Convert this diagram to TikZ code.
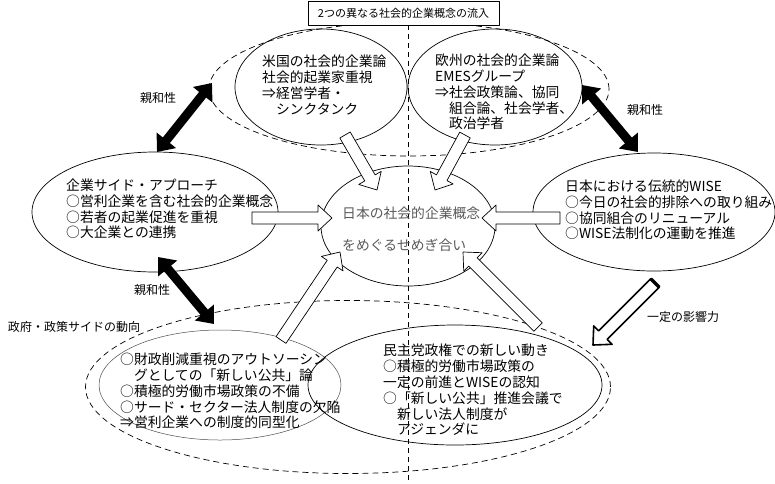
\documentclass[tikz,border=0pt]{standalone}
\usepackage{fontspec}
\setmainfont{Noto Sans CJK JP}
\usetikzlibrary{arrows.meta,calc,shapes.geometric}
\begin{document}
\begin{tikzpicture}[x=1pt,y=-1pt, line join=round,
    ell/.style={draw, ellipse, inner sep=0pt, line width=0.7pt},
    dsh/.style={dash pattern=on 6pt off 4pt, line width=0.7pt},
    txt/.style={align=left, inner sep=0pt, anchor=west, font=\fontsize{13.8}{15.8}\selectfont},
    lbl/.style={inner sep=0pt, font=\fontsize{12}{14}\selectfont},
    kin/.style={line width=9pt, {Triangle[length=15pt,width=24pt]}-{Triangle[length=15pt,width=24pt]}}]
    \def\shw{6pt} \def\hhw{13pt} \def\hlen{14pt} % block arrow sizes
    \def\blockarrow#1#2#3{\coordinate (hb) at ($(#3)!\hlen!(#2)$);
        \draw[fill=white,line width=0.7pt,#1] ($(#2)!\shw!90:(#3)$)--($(hb)!\shw!90:(#3)$)--($(hb)!\hhw!90:(#3)$)--(#3)
        --($(hb)!\hhw!-90:(#3)$)--($(hb)!\shw!-90:(#3)$)--($(#2)!\shw!-90:(#3)$)--cycle;}
    \useasboundingbox (0,0) rectangle (775,483);
    % dashed groups
    \node[ell, dsh, minimum width=400, minimum height=134] (topD) at (409,89) {};
    \node[ell, dsh, minimum width=525, minimum height=173] (botD) at (348,387) {};
    \draw[dash pattern=on 5pt off 4pt, line width=0.7pt] (408,25)--(408,483);
    \node[draw, fill=white, line width=0.7pt, minimum width=191, minimum height=24, inner sep=0pt,
        font=\fontsize{11}{13}\selectfont] (title) at (403.5,13.5) {2つの異なる社会的企業概念の流入};
    % ellipses
    \node[ell, minimum width=172, minimum height=116] (beiE) at (321,87) {};
    \node[ell, minimum width=174, minimum height=116] (oshuE) at (495,87) {};
    \node[ell, minimum width=246, minimum height=120] (kigyoE) at (155,212) {};
    \node[ell, minimum width=242, minimum height=118] (wiseE) at (654,212) {};
    \node[ell, minimum width=174, minimum height=120] (chuE) at (408,226) {};
    \node[ell, draw=black!70, line width=0.5pt, minimum width=242, minimum height=110] (seifuE) at (220,385) {};
    \node[ell, minimum width=294, minimum height=120] (minshuE) at (455,385) {};
    % texts
    \node[txt] (beiT) at (262,85) {米国の社会的企業論\\社会的起業家重視\\⇒経営学者・\\　シンクタンク};
    \node[txt] (oshuT) at (435,92) {欧州の社会的企業論\\EMESグループ\\⇒社会政策論、協同\\　組合論、社会学者、\\　政治学者};
    \node[txt] (kigyoT) at (66,209) {企業サイド・アプローチ\\○営利企業を含む社会的企業概念\\○若者の起業促進を重視\\○大企業との連携};
    \node[txt] (wiseT) at (565,210) {日本における伝統的WISE\\○今日の社会的排除への取り組み\\○協同組合のリニューアル\\○WISE法制化の運動を推進};
    \node[txt, text=black!65] (chuT) at (342,229) {日本の社会的企業概念\\[16pt]をめぐるせめぎ合い};
    \node[txt] (seifuT) at (120,391) {○財政削減重視のアウトソーシン\\　グとしての「新しい公共」論\\○積極的労働市場政策の不備\\○サード・セクター法人制度の欠陥\\⇒営利企業への制度的同型化};
    \node[txt] (minshuT) at (383,390) {民主党政権での新しい動き\\○積極的労働市場政策の\\一定の前進とWISEの認知\\○「新しい公共」推進会議で\\　新しい法人制度が\\　アジェンダに};
    % labels
    \node[lbl] (shinwa1) at (158,98) {親和性};
    \node[lbl] (shinwa2) at (152,290) {親和性};
    \node[lbl] (shinwa3) at (645,110) {親和性};
    \node[lbl] (eikyo) at (683,317) {一定の影響力};
    \node[lbl] (seifuL) at (74,327) {政府・政策サイドの動向};
    % arrow ends
    \coordinate (beiA) at (345,135); \coordinate (beiB) at (377,190);
    \coordinate (oshuA) at (465,135); \coordinate (oshuB) at (435,190);
    \coordinate (kigyoA) at (252,218); \coordinate (kigyoB) at (332,218);
    \coordinate (wiseA) at (560,218); \coordinate (wiseB) at (482,218);
    \coordinate (seifuA) at (281,340); \coordinate (seifuB) at (340,252);
    \coordinate (minshuA) at (538,327); \coordinate (minshuB) at (463,252);
    \coordinate (eikyoA) at (655,283); \coordinate (eikyoB) at (593,345);
    \blockarrow{}{beiA}{beiB}
    \blockarrow{}{oshuA}{oshuB}
    \blockarrow{}{kigyoA}{kigyoB}
    \blockarrow{}{wiseA}{wiseB}
    \blockarrow{}{seifuA}{seifuB}
    \blockarrow{}{minshuA}{minshuB}
    \blockarrow{line width=1.6pt}{eikyoA}{eikyoB}
    \draw[line width=3.5pt] ($(eikyoA)!\shw!90:(eikyoB)$)--($(eikyoA)!\shw!-90:(eikyoB)$);
    % affinity arrows
    \coordinate (k1) at (157,152); \coordinate (k1t) at (212,83);
    \coordinate (k2) at (158,257); \coordinate (k2t) at (214,324);
    \coordinate (k3) at (582,85); \coordinate (k3t) at (638,152);
    \draw[kin] (k1)--(k1t);
    \draw[kin] (k2)--(k2t);
    \draw[kin] (k3)--(k3t);
\end{tikzpicture}
\end{document}
